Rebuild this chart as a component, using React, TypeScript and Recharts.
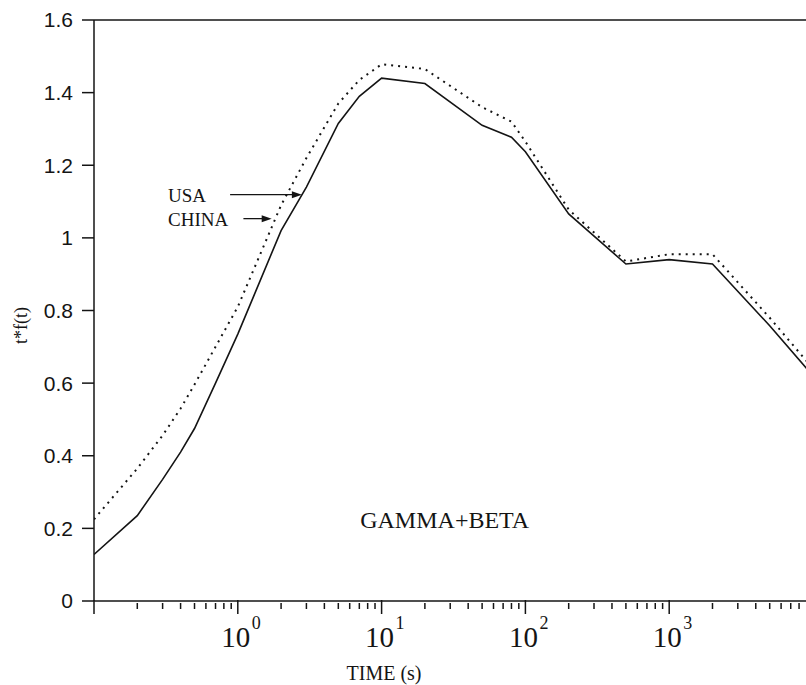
import React from "react";
import { LineChart, Line, XAxis, YAxis, ReferenceLine, ReferenceDot } from "recharts";

// time (s), log scale
const times = [0.1, 0.2, 0.3, 0.4, 0.5, 0.7, 1, 2, 3, 5, 7, 10, 20, 50, 80, 100, 200, 500, 1000, 2000, 5000, 10000];
// t*f(t)
const usa = [0.128, 0.235, 0.335, 0.41, 0.475, 0.6, 0.735, 1.02, 1.14, 1.315, 1.39, 1.44, 1.425, 1.31, 1.277, 1.237, 1.066, 0.928, 0.94, 0.928, 0.758, 0.62];
const china = [0.225, 0.365, 0.456, 0.53, 0.596, 0.7, 0.81, 1.09, 1.22, 1.37, 1.435, 1.478, 1.465, 1.36, 1.32, 1.265, 1.078, 0.935, 0.955, 0.955, 0.78, 0.64];

const yTicks = [0, 0.2, 0.4, 0.6, 0.8, 1, 1.2, 1.4, 1.6];
const decades = [0.1, 1, 10, 100, 1000];
const decadeLabels = ["", "0", "1", "2", "3"];
const xDomain = [0.1, 8940];

const data = times.map((t, i) => ({ t, usa: usa[i], china: china[i] }));

const xTicks = decades.flatMap((d) => [1, 2, 3, 4, 5, 6, 7, 8, 9].map((k) => k * d)).filter((v) => v <= xDomain[1]);

const INK = "#141414";
const SERIF = "'Liberation Serif', 'DejaVu Serif', serif";
const SANS = "'Liberation Sans', Arial, sans-serif";

function XTick(props: any) {
  const { x, y, payload } = props;
  const di = decades.findIndex((d) => Math.abs(payload.value / d - 1) < 1e-6);
  const major = di >= 0;
  return (
    <g>
      <line x1={x} x2={x} y1={major ? y - 3 : y} y2={major ? y + 11 : y + 6} stroke={INK} strokeWidth={1.5} />
      {major && decadeLabels[di] !== "" && (
        <>
          <text x={x - 2} y={y + 44} fill={INK} fontFamily={SERIF} fontSize={29} textAnchor="middle">10</text>
          <text x={x + 14} y={y + 26} fill={INK} fontFamily={SERIF} fontSize={18}>{decadeLabels[di]}</text>
        </>
      )}
    </g>
  );
}

function Arrow(props: any) {
  const { x1, y1, x2, y2, text } = props;
  return (
    <g>
      <text x={168} y={y1 + 7} fontFamily={SERIF} fontSize={19} fill={INK}>{text}</text>
      <line x1={x1} y1={y1} x2={x2 - 8} y2={y2} stroke={INK} strokeWidth={1.3} />
      <polygon points={`${x2},${y2} ${x2 - 10},${y2 - 3.5} ${x2 - 10},${y2 + 3.5}`} fill={INK} />
    </g>
  );
}

function YLabel(props: any) {
  const { viewBox } = props;
  const cx = viewBox.x + 21;
  const cy = viewBox.y + viewBox.height / 2 + 15;
  return (
    <text x={cx} y={cy} transform={`rotate(-90 ${cx} ${cy})`} textAnchor="middle" dominantBaseline="central"
      fontFamily={SERIF} fontSize={18} fill={INK}>t*f(t)</text>
  );
}

export default function App() {
  return (
    <div style={{ position: "absolute", left: 0, top: 0, background: "#fff" }}>
      <LineChart width={806} height={685} data={data} margin={{ top: 20, right: 0, left: 0, bottom: 0 }}>
        <XAxis
          dataKey="t"
          type="number"
          scale="log"
          domain={xDomain}
          allowDataOverflow
          ticks={xTicks}
          interval={0}
          tickSize={0}
          tickLine={false}
          tick={<XTick />}
          height={84}
          axisLine={{ stroke: INK, strokeWidth: 1.5 }}
          label={{
            content: (p: any) => (
              <text x={384} y={p.viewBox.y + 79} textAnchor="middle" fontFamily={SERIF} fontSize={20} fill={INK}>TIME (s)</text>
            ),
          }}
        />
        <YAxis
          type="number"
          domain={[0, 1.6]}
          ticks={yTicks}
          interval={0}
          width={94}
          tickSize={12}
          tickMargin={9}
          tickFormatter={(v: number) => String(v)}
          tick={{ fontSize: 21, fill: INK, fontFamily: SANS }}
          tickLine={{ stroke: INK, strokeWidth: 1.5 }}
          axisLine={{ stroke: INK, strokeWidth: 1.5 }}
          label={{ content: YLabel }}
        />
        <ReferenceLine y={1.6} stroke={INK} strokeWidth={1.5} />
        <Line dataKey="china" type="linear" stroke={INK} strokeWidth={2} strokeDasharray="2 5" dot={false} isAnimationActive={false} />
        <Line dataKey="usa" type="linear" stroke={INK} strokeWidth={1.6} dot={false} isAnimationActive={false} />
        <ReferenceLine
          segment={[{ x: 0.884, y: 1.119 }, { x: 2.79, y: 1.119 }]}
          ifOverflow="visible"
          shape={(p: any) => <Arrow {...p} text="USA" />}
        />
        <ReferenceLine
          segment={[{ x: 1.094, y: 1.053 }, { x: 1.72, y: 1.053 }]}
          ifOverflow="visible"
          shape={(p: any) => <Arrow {...p} text="CHINA" />}
        />
        <ReferenceDot
          x={7.1}
          y={0.2}
          r={0}
          ifOverflow="visible"
          shape={(p: any) => (
            <text x={p.cx} y={p.cy} fontFamily={SERIF} fontSize={24} fill={INK}>GAMMA+BETA</text>
          )}
        />
      </LineChart>
    </div>
  );
}
